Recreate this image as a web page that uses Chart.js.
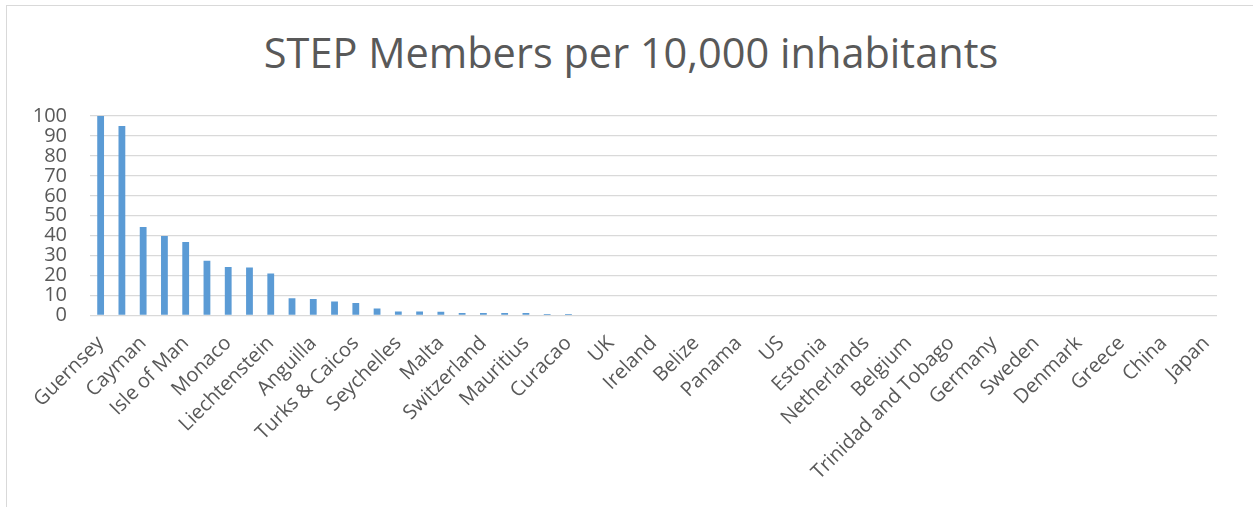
<!DOCTYPE html>
<html>
<head>
<meta charset="utf-8">
<script src="https://cdn.jsdelivr.net/npm/chart.js@4/dist/chart.umd.min.js"></script>
<style>
  body { margin: 0; background: #fff; }
  #wrap { position: relative; width: 1253px; height: 507px; overflow: hidden; }
  #frame {
    position: absolute; left: 6px; top: 5px; width: 1400px; height: 600px;
    border-left: 1.5px solid #d9d9d9; border-top: 1.5px solid #d9d9d9;
  }
  #title {
    position: absolute; left: 0; top: 27px; width: 1262px; line-height: 50px;
    text-align: center; font-family: 'Open Sans', sans-serif; font-size: 41.5px; color: #595959;
  }
  #chart { position: absolute; left: 0; top: 0; }
</style>
</head>
<body>
<div id="wrap">
  <div id="frame"></div>
  <div id="title"></div>
  <canvas id="chart" width="1253" height="507"></canvas>
</div>
<script>
// countries in chart order (only every second one is labelled on the axis)
const countries = [
  'Guernsey', 'Jersey', 'Cayman', 'BVI', 'Isle of Man', 'Bermuda', 'Monaco', 'Gibraltar',
  'Liechtenstein', 'Bahamas', 'Anguilla', 'Luxembourg', 'Turks & Caicos', 'Cyprus',
  'Seychelles', 'Barbados', 'Malta', 'Hong Kong', 'Switzerland', 'Singapore', 'Mauritius',
  'Canada', 'Curacao', 'New Zealand', 'UK', 'Israel', 'Ireland', 'Australia', 'Belize',
  'South Africa', 'Panama', 'UAE', 'US', 'Uruguay', 'Estonia', 'Austria', 'Netherlands',
  'Spain', 'Belgium', 'France', 'Trinidad and Tobago', 'Italy', 'Germany', 'Argentina',
  'Sweden', 'Poland', 'Denmark', 'Brazil', 'Greece', 'Russia', 'China', 'India', 'Japan'
];

// STEP members per 10,000 inhabitants (the tail is too small to see)
const membersPer10k = [
  100, 95.0, 44.3, 39.8, 36.9, 27.5, 24.3, 24.0,
  21.0, 8.6, 8.3, 7.0, 6.3, 3.5,
  2.0, 2.0, 1.9, 1.3, 1.2, 1.2, 1.2,
  0.7, 0.7, 0.4, 0.4, 0, 0, 0, 0,
  0, 0, 0, 0, 0, 0, 0, 0,
  0, 0, 0, 0, 0, 0, 0,
  0, 0, 0, 0, 0, 0, 0, 0, 0
];

const yTicks = [0, 10, 20, 30, 40, 50, 60, 70, 80, 90, 100];

const chartTitle = 'STEP Members per 10,000 inhabitants';

const textColor = '#595959';
const gridColor = '#d9d9d9';

document.getElementById('title').textContent = chartTitle;

new Chart(document.getElementById('chart'), {
  type: 'bar',
  data: {
    labels: countries,
    datasets: [{
      label: 'Members per 10,000',
      data: membersPer10k,
      backgroundColor: '#5b9bd5',
      inflateAmount: 0,
      categoryPercentage: 1,
      barPercentage: 0.32
    }]
  },
  options: {
    responsive: false,
    animation: false,
    layout: { padding: { left: 0, right: 36, top: 116, bottom: 0 } },
    plugins: {
      legend: { display: false },
      tooltip: { enabled: false },
      title: { display: false }
    },
    scales: {
      x: {
        grid: { display: false },
        border: { display: false },
        afterFit: (scale) => { scale.height = 191.5; },
        ticks: {
          autoSkip: false,
          maxRotation: 45,
          minRotation: 45,
          padding: 8,
          color: textColor,
          font: { family: 'Open Sans', size: 20 },
          callback: (value, i) => (i % 2 === 0 ? countries[i] : '')
        }
      },
      y: {
        min: 0,
        max: 100,
        afterFit: (scale) => { scale.width = 90; },
        afterBuildTicks: (scale) => { scale.ticks = yTicks.map(v => ({ value: v })); },
        grid: { color: gridColor, lineWidth: 1.3, drawTicks: false },
        border: { display: false },
        ticks: {
          autoSkip: false,
          padding: 23,
          color: textColor,
          font: { family: 'Open Sans', size: 20 }
        }
      }
    }
  }
});
</script>
</body>
</html>
